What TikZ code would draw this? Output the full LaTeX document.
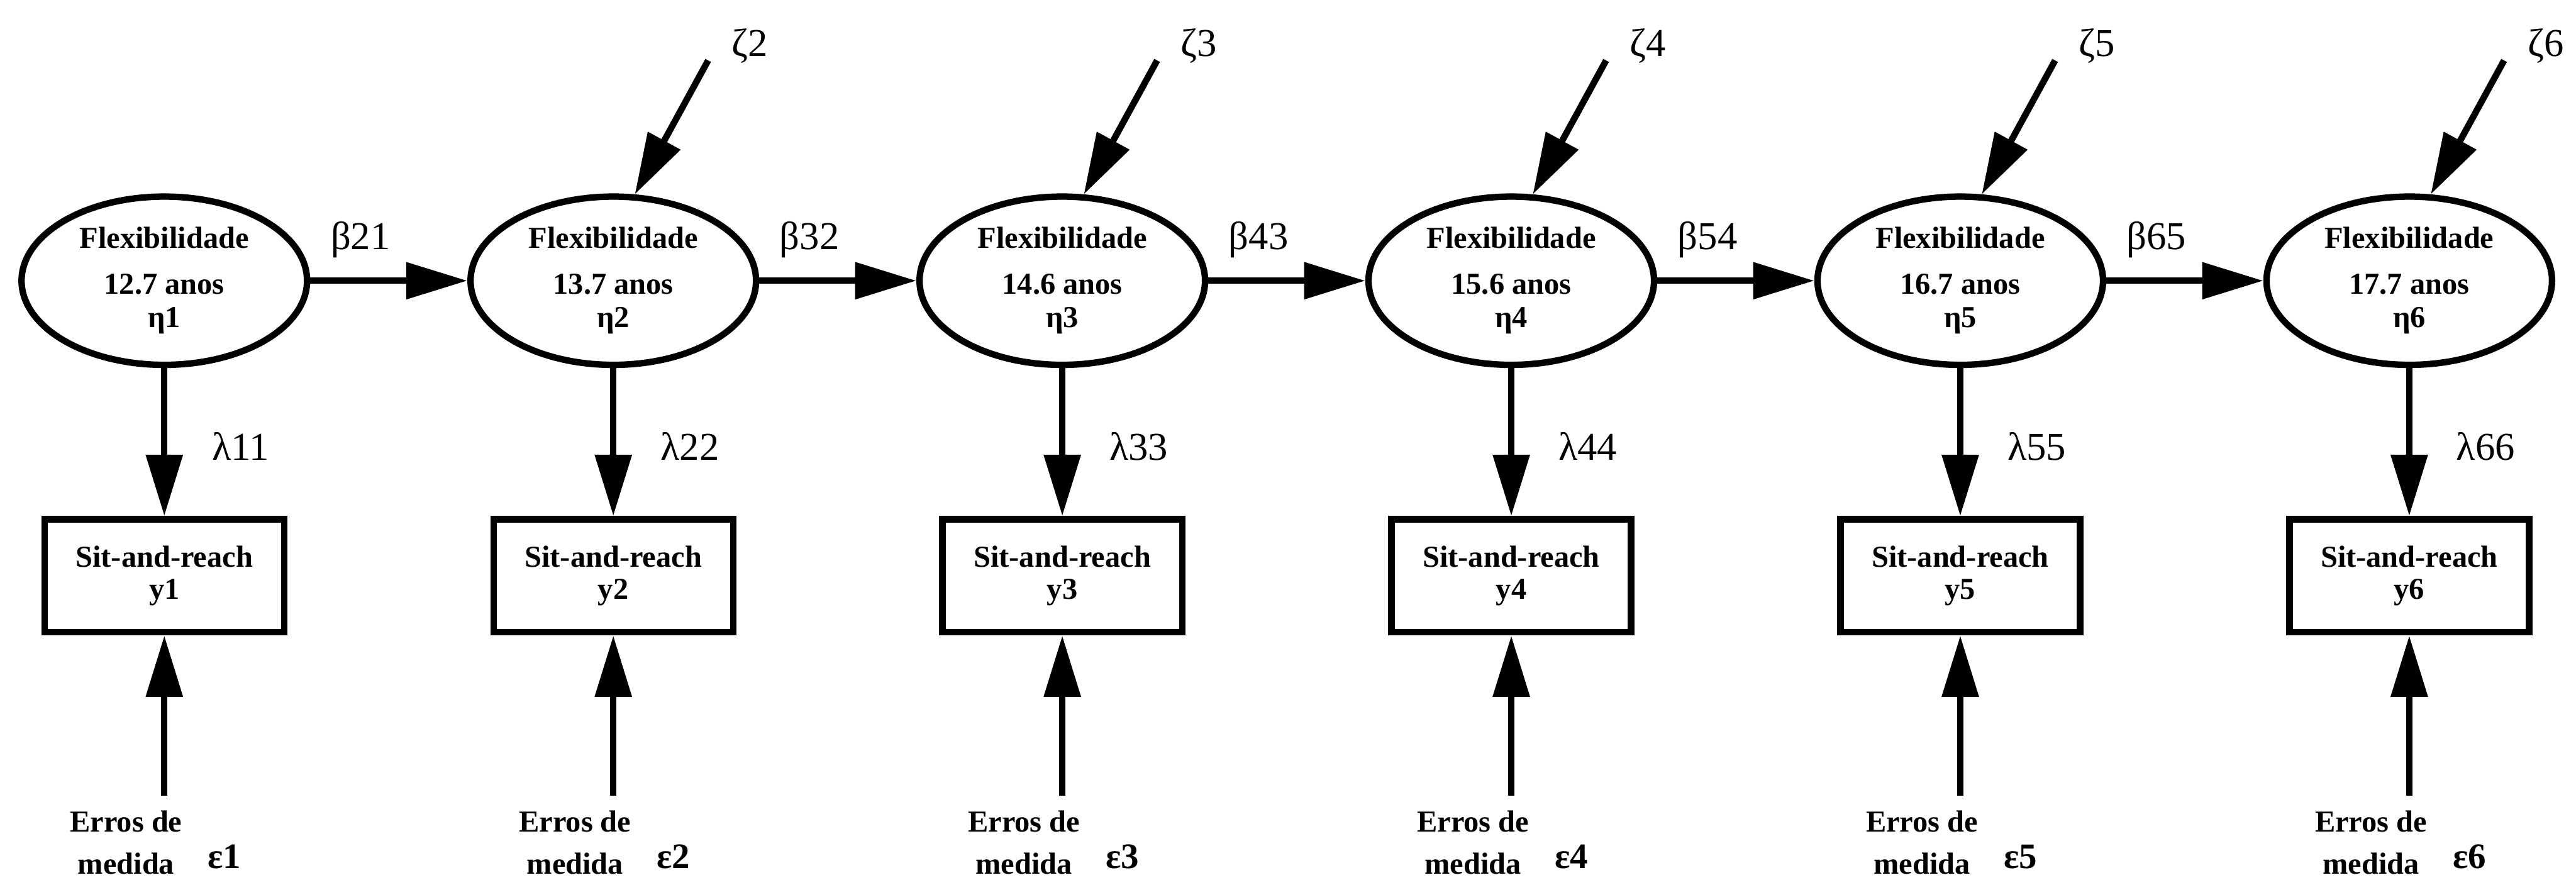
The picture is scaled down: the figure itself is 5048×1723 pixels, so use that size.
\documentclass[tikz,border=0pt]{standalone}
\usepackage{fontspec}
\setmainfont{Liberation Serif}
\usetikzlibrary{arrows.meta,positioning,shapes.geometric}

\begin{document}
\begin{tikzpicture}[x=0.005cm,y=-0.005cm,
  latente/.style={draw,ellipse,line width=1.8pt,minimum width=2.8cm,minimum height=1.65cm,
                  inner sep=0pt,align=center,font=\fontsize{8.5}{10}\selectfont\bfseries},
  indicador/.style={draw,line width=1.8pt,minimum width=2.35cm,minimum height=1.11cm,
                  inner sep=0pt,align=center,font=\fontsize{8.5}{9}\selectfont\bfseries},
  erro/.style={align=center,inner sep=0pt,font=\fontsize{8.5}{11.8}\selectfont\bfseries},
  rotulo/.style={inner sep=0pt,font=\fontsize{11}{13}\selectfont},
  flecha/.style={-{Triangle[length=0.6cm,width=0.35cm]},line width=1.8pt}]
  \useasboundingbox (0,0) rectangle (5048,1723);
  % variaveis latentes
  \node[latente] (e1) at (322,550) {Flexibilidade\\[2.7pt]12.7 anos\\[-0.6pt]η1};
  \node[latente,right=1.54cm of e1] (e2) {Flexibilidade\\[2.7pt]13.7 anos\\[-0.6pt]η2};
  \node[latente,right=1.54cm of e2] (e3) {Flexibilidade\\[2.7pt]14.6 anos\\[-0.6pt]η3};
  \node[latente,right=1.54cm of e3] (e4) {Flexibilidade\\[2.7pt]15.6 anos\\[-0.6pt]η4};
  \node[latente,right=1.54cm of e4] (e5) {Flexibilidade\\[2.7pt]16.7 anos\\[-0.6pt]η5};
  \node[latente,right=1.54cm of e5] (e6) {Flexibilidade\\[2.7pt]17.7 anos\\[-0.6pt]η6};
  % indicadores
  \node[indicador,below=1.45cm of e1] (y1) {Sit-and-reach\\y1};
  \node[indicador,below=1.45cm of e2] (y2) {Sit-and-reach\\y2};
  \node[indicador,below=1.45cm of e3] (y3) {Sit-and-reach\\y3};
  \node[indicador,below=1.45cm of e4] (y4) {Sit-and-reach\\y4};
  \node[indicador,below=1.45cm of e5] (y5) {Sit-and-reach\\y5};
  \node[indicador,below=1.45cm of e6] (y6) {Sit-and-reach\\y6};
  % caminhos beta
  \draw[flecha] (e1) -- node[rotulo,pos=0.32,yshift=0.4cm] (b21) {β21} (e2);
  \draw[flecha] (e2) -- node[rotulo,pos=0.32,yshift=0.4cm] (b32) {β32} (e3);
  \draw[flecha] (e3) -- node[rotulo,pos=0.32,yshift=0.4cm] (b43) {β43} (e4);
  \draw[flecha] (e4) -- node[rotulo,pos=0.32,yshift=0.4cm] (b54) {β54} (e5);
  \draw[flecha] (e5) -- node[rotulo,pos=0.32,yshift=0.4cm] (b65) {β65} (e6);
  % cargas lambda
  \draw[flecha] (e1) -- node[rotulo,pos=0.53,xshift=0.75cm] (l11) {λ11} (y1);
  \draw[flecha] (e2) -- node[rotulo,pos=0.53,xshift=0.75cm] (l22) {λ22} (y2);
  \draw[flecha] (e3) -- node[rotulo,pos=0.53,xshift=0.75cm] (l33) {λ33} (y3);
  \draw[flecha] (e4) -- node[rotulo,pos=0.53,xshift=0.75cm] (l44) {λ44} (y4);
  \draw[flecha] (e5) -- node[rotulo,pos=0.53,xshift=0.75cm] (l55) {λ55} (y5);
  \draw[flecha] (e6) -- node[rotulo,pos=0.53,xshift=0.75cm] (l66) {λ66} (y6);
  % perturbacoes zeta
  \foreach \i in {2,...,6}{
    \coordinate (z\i) at ([xshift=0.93cm,yshift=2.16cm]e\i.center);
    \node[rotulo] (zl\i) at ([xshift=1.34cm,yshift=2.3cm]e\i.center) {ζ\i};
    \draw[flecha] (z\i) -- (e\i.76);
  }
  % erros de medida
  \foreach \i in {1,...,6}{
    \coordinate[below=1.57cm of y\i] (c\i);
    \node[erro] (t\i) at ([xshift=-0.375cm,yshift=-0.46cm]c\i) {Erros de\\medida};
    \node[rotulo,font=\fontsize{10}{12}\selectfont\bfseries] (ep\i) at ([xshift=0.59cm,yshift=-0.6cm]c\i) {ε\i};
    \draw[flecha] (c\i) -- (y\i);
  }
\end{tikzpicture}
\end{document}
